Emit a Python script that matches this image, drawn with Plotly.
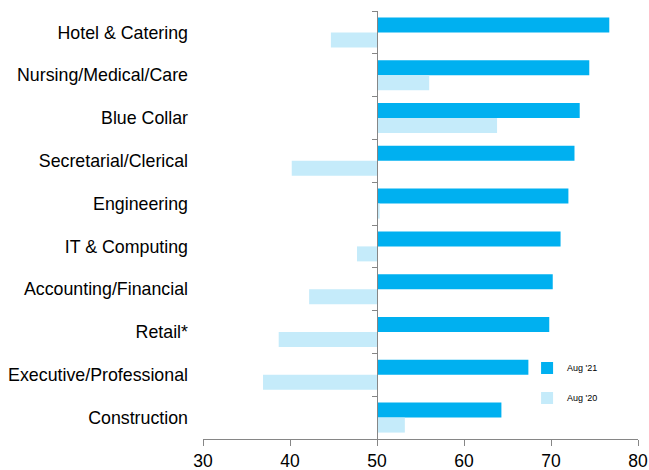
import plotly.graph_objects as go

categories = ["Hotel & Catering", "Nursing/Medical/Care", "Blue Collar", "Secretarial/Clerical",
              "Engineering", "IT & Computing", "Accounting/Financial", "Retail*",
              "Executive/Professional", "Construction"]
aug21 = [76.7, 74.4, 73.3, 72.7, 72.0, 71.1, 70.2, 69.8, 67.4, 64.3]
aug20 = [44.7, 56.0, 63.8, 40.2, 50.3, 47.7, 42.2, 38.7, 36.9, 53.2]
x_ticks = [30, 40, 50, 60, 70, 80]
baseline = 50

FONT = "Arial, Liberation Sans, sans-serif"
GRAY = "#868686"

fig = go.Figure()
fig.add_trace(go.Bar(
    y=categories, x=[v - baseline for v in aug21], base=baseline, orientation="h",
    name="Aug '21", legendgroup="a", marker=dict(color="#00B0F0", line=dict(width=0)),
))
fig.add_trace(go.Bar(
    y=categories, x=[v - baseline for v in aug20], base=baseline, orientation="h",
    name="Aug '20", legendgroup="b", marker=dict(color="#C5EBFA", line=dict(width=0)),
))
# invisible helper trace to carry the baseline axis with boundary ticks
fig.add_trace(go.Scatter(
    y=categories, x=[baseline] * len(categories), yaxis="y2", mode="markers",
    marker=dict(opacity=0), showlegend=False, hoverinfo="skip",
))

n = len(categories)
fig.update_layout(
    template="none",
    width=649, height=470,
    margin=dict(l=203, r=11, t=11, b=31, pad=0),
    plot_bgcolor="white", paper_bgcolor="white",
    barmode="group", bargap=0.3, bargroupgap=0,
    font=dict(family=FONT, color="#000000"),
    xaxis=dict(
        range=[30, 80], tickvals=x_ticks, showgrid=False, zeroline=False, automargin=False,
        showline=True, linecolor=GRAY, linewidth=1,
        ticks="outside", ticklen=6, tickcolor=GRAY,
        tickfont=dict(size=17.5, family=FONT, color="#000000"),
    ),
    yaxis=dict(
        type="category", categoryorder="array", categoryarray=categories, automargin=False,
        range=[n - 0.5, -0.5], showgrid=False, zeroline=False, showline=False,
        ticks="", ticklabelstandoff=14,
        tickfont=dict(size=17.8, family=FONT, color="#000000"),
    ),
    yaxis2=dict(
        type="category", categoryorder="array", categoryarray=categories, automargin=False,
        range=[n - 0.5, -0.5], overlaying="y", anchor="free", position=0.4,
        side="left", showgrid=False, zeroline=False, showline=True,
        linecolor=GRAY, linewidth=1, showticklabels=False,
        ticks="outside", tickson="boundaries", ticklen=5, tickcolor=GRAY,
    ),
    legend=dict(
        x=0.745, y=0.2, xanchor="left", yanchor="top",
        bgcolor="rgba(0,0,0,0)", font=dict(size=9, family=FONT, color="#000000"),
        traceorder="grouped", itemwidth=30, tracegroupgap=11,
    ),
)
fig.write_html(
    "out.html",
    config={"displayModeBar": False},
    post_script="document.body.style.margin='0';document.body.style.overflow='hidden';",
)
